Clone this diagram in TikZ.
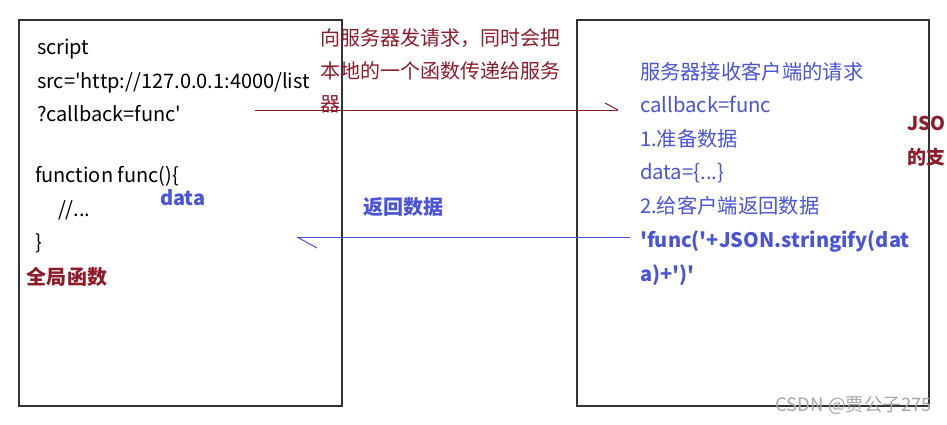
\documentclass[tikz,border=0pt]{standalone}
\usepackage{fontspec}
\setmainfont{Noto Sans CJK SC}[Ligatures=TeXOff]
\newcommand\sq{\char"0027\relax}
\definecolor{boxline}{HTML}{333333}
\definecolor{dred}{HTML}{8E1B2A}
\definecolor{rblue}{HTML}{4A55D6}
\definecolor{wm}{HTML}{A8A8A8}
\begin{document}
\begin{tikzpicture}[x=1pt,y=-1pt,
  every node/.style={inner sep=0pt,outer sep=0pt,anchor=base west},
  code/.style={font=\fontsize{20}{20}\selectfont,text=black},
  redt/.style={font=\fontsize{20}{20}\selectfont,text=dred},
  bluet/.style={font=\fontsize{20.3}{20.3}\selectfont,text=rblue},
  bluebold/.style={font=\fontsize{20}{20}\selectfont\bfseries,text=rblue},
  redbold/.style={font=\fontsize{20}{20}\selectfont\bfseries,text=dred},
  panel/.style={draw=boxline,line width=1.3pt},
  reqline/.style={draw=dred,line width=1pt},
  resline/.style={draw=rblue,line width=1pt}]
\useasboundingbox (0,0) rectangle (947,424);
\fill[white] (0,0) rectangle (947,424);
% panels
\draw[panel] (19,20) rectangle (342,406);
\draw[panel] (577,20) rectangle (929,406);
% left panel code
\node[code] (l1) at (37,54) {script};
\node[code] (l2) at (37,88) {src=\sq http://127.0.0.1:4000/list};
\node[code] (l3) at (37,121) {?callback=func\sq};
\node[code] (l4) at (35,182) {function func()\{};
\node[code] (l5) at (58,216) {//...};
\node[code] (l6) at (35,249) {\}};
\node[bluebold] (dt) at (160,205) {data};
\node[redbold] (gf) at (27,284) {全局函数};
% request annotation
\node[redt] (r1) at (320,45) {向服务器发请求，同时会把};
\node[redt] (r2) at (320,78) {本地的一个函数传递给服务};
\node[redt] (r3) at (320,111) {器};
% response label
\node[bluebold] (fh) at (363,214) {返回数据};
% right panel
\node[bluet] (s1) at (640,79) {服务器接收客户端的请求};
\node[bluet] (s2) at (640,112) {callback=func};
\node[bluet] (s3) at (640,146) {1.准备数据};
\node[bluet] (s4) at (640,179) {data=\{...\}};
\node[bluet] (s5) at (640,213) {2.给客户端返回数据};
\node[bluebold] (s6) at (640,247) {\sq func(\sq+JSON.stringify(dat};
\node[bluebold] (s7) at (640,281) {a)+\sq)\sq};
% side note (cut off at the right edge in the reference)
\node[redbold,font=\fontsize{19}{19}\selectfont\bfseries] (j1) at (907,130) {JSO};
\node[redbold,font=\fontsize{19}{19}\selectfont\bfseries] (j2) at (907,164) {的支};
% watermark
\node[font=\fontsize{18.5}{18.5}\selectfont,text=wm,anchor=base east] (wmk) at (932,411) {CSDN @贾公子275};
% connectors
\coordinate (qa) at (255,110);
\coordinate (qb) at (618,110);
\coordinate (qc) at (605,103);
\draw[reqline] (qa) -- (qb);
\draw[reqline] (qc) -- (qb);
\coordinate (pa) at (630,237);
\coordinate (pb) at (297,237);
\coordinate (pc) at (317,248);
\draw[resline] (pa) -- (pb);
\draw[resline] (pb) -- (pc);
\end{tikzpicture}
\end{document}
